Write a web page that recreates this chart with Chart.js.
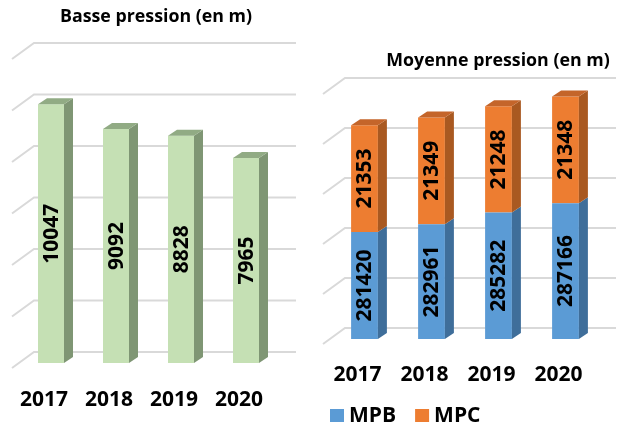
<!DOCTYPE html>
<html lang="fr">
<head>
<meta charset="utf-8">
<title>Longueur des réseaux basse et moyenne pression</title>
<script src="https://cdn.jsdelivr.net/npm/chart.js@4.4.1/dist/chart.umd.min.js"></script>
<style>
    html, body { margin: 0; padding: 0; background: #fff; }
    #wrap { position: relative; width: 621px; height: 427px; overflow: hidden; }
    .panel { position: absolute; top: 0; height: 427px; }
    #left { left: 0; width: 310px; }
    #right { left: 310px; width: 311px; }
</style>
</head>
<body>
<div id="wrap">
    <div class="panel" id="left"><canvas id="bpChart"></canvas></div>
    <div class="panel" id="right"><canvas id="mpChart"></canvas></div>
</div>
<script>
"use strict";

const years = ['2017', '2018', '2019', '2020'];

// Basse pression (en m)
const bpLengths = [10047, 9092, 8828, 7965];

// Moyenne pression (en m)
const mpbLengths = [281420, 282961, 285282, 287166];
const mpcLengths = [21353, 21349, 21248, 21348];
const mpSeries = ['MPB', 'MPC'];
const mpAxisMin = 260000;

const FONT = '"Open Sans", "Liberation Sans", sans-serif';
const DX = 9, DY = 6;   // depth of the 3D bars

function poly(ctx, pts, color) {
    ctx.beginPath();
    ctx.moveTo(pts[0][0], pts[0][1]);
    for (let i = 1; i < pts.length; i++) ctx.lineTo(pts[i][0], pts[i][1]);
    ctx.closePath();
    ctx.fillStyle = color;
    ctx.fill();
}

// back wall + floor lines, bar side/top faces, values inside bars, title, legend
const pseudo3d = {
    id: 'pseudo3d',
    beforeDatasetsDraw(chart, args, opts) {
        const ctx = chart.ctx;
        const y = chart.scales.y;
        const left = chart.chartArea.left + opts.floorShift;
        ctx.save();
        ctx.strokeStyle = '#D9D9D9';
        ctx.lineWidth = 2;
        y.ticks.forEach(t => {
            const py = y.getPixelForValue(t.value);
            ctx.beginPath();
            ctx.moveTo(left, py + 5);
            ctx.lineTo(left + 22, py - 11);
            ctx.lineTo(opts.wallEnd, py - 11);
            ctx.stroke();
        });
        ctx.restore();
    },
    afterDatasetsDraw(chart) {
        const ctx = chart.ctx;
        const sets = chart.data.datasets;
        ctx.save();
        sets.forEach((ds, i) => {
            chart.getDatasetMeta(i).data.forEach(bar => {
                const p = bar.getProps(['x', 'y', 'base', 'width'], true);
                const l = p.x - p.width / 2, r = p.x + p.width / 2;
                poly(ctx, [[r, p.y], [r + DX, p.y - DY], [r + DX, p.base - DY], [r, p.base]], ds.sideColor);
                if (i === sets.length - 1) {
                    poly(ctx, [[l, p.y], [l + DX, p.y - DY], [r + DX, p.y - DY], [r, p.y]], ds.topColor);
                }
            });
        });
        ctx.fillStyle = '#000';
        ctx.font = 'bold 21px ' + FONT;
        ctx.textAlign = 'center';
        ctx.textBaseline = 'middle';
        sets.forEach((ds, i) => {
            chart.getDatasetMeta(i).data.forEach((bar, j) => {
                const p = bar.getProps(['x', 'y', 'base'], true);
                ctx.save();
                ctx.translate(p.x + 1, (p.y + p.base) / 2);
                ctx.rotate(-Math.PI / 2);
                ctx.fillText(String(ds.data[j]), 0, 0);
                ctx.restore();
            });
        });
        ctx.restore();
    },
    afterDraw(chart, args, opts) {
        const ctx = chart.ctx;
        ctx.save();
        ctx.fillStyle = '#000';
        ctx.textBaseline = 'middle';
        ctx.textAlign = 'center';
        ctx.font = 'bold 17.8px ' + FONT;
        ctx.fillText(opts.title, opts.titleX, opts.titleY);
        if (opts.legend) {
            ctx.font = 'bold 21px ' + FONT;
            ctx.textAlign = 'left';
            let x = opts.legendX;
            chart.data.datasets.forEach(ds => {
                ctx.fillStyle = ds.backgroundColor;
                ctx.fillRect(x, opts.legendY - 7, 14, 13);
                ctx.fillStyle = '#000';
                ctx.fillText(ds.label, x + 19, opts.legendY);
                x += 19 + ctx.measureText(ds.label).width + 19;
            });
        }
        ctx.restore();
    }
};

function xAxis(height, pad) {
    return {
        grid: { display: false, drawTicks: false },
        border: { display: false },
        ticks: {
            color: '#000',
            padding: pad,
            labelOffset: -7,
            font: { family: FONT, size: 21, weight: 'bold' }
        },
        afterFit(scale) { scale.height = height; }
    };
}

function yAxis(min, max, step) {
    return {
        display: false,
        min: min,
        max: max,
        stacked: true,
        ticks: { stepSize: step }
    };
}

new Chart(document.getElementById('bpChart'), {
    type: 'bar',
    data: {
        labels: years,
        datasets: [{
            label: 'Basse pression',
            data: bpLengths,
            backgroundColor: '#C5E0B4',
            sideColor: '#7F9674',
            topColor: '#91AB84',
            barPercentage: 0.4,
            categoryPercentage: 1
        }]
    },
    options: {
        responsive: true,
        maintainAspectRatio: false,
        animation: false,
        events: [],
        layout: { padding: { top: 54, left: 18.5, right: 31.5, bottom: 0 } },
        scales: {
            x: xAxis(64, 24),
            y: yAxis(0, 12000, 2000)
        },
        plugins: {
            legend: { display: false },
            tooltip: { enabled: false },
            pseudo3d: {
                floorShift: -6.5, wallEnd: 296,
                title: 'Basse pression (en m)', titleX: 156, titleY: 17
            }
        }
    },
    plugins: [pseudo3d]
});

new Chart(document.getElementById('mpChart'), {
    type: 'bar',
    data: {
        labels: years,
        datasets: [{
            label: mpSeries[0],
            data: mpbLengths,
            base: mpAxisMin,
            backgroundColor: '#5B9BD5',
            sideColor: '#3F6E9A',
            topColor: '#4A80B2',
            barPercentage: 0.4,
            categoryPercentage: 1
        }, {
            label: mpSeries[1],
            data: mpcLengths,
            backgroundColor: '#ED7D31',
            sideColor: '#A95921',
            topColor: '#C4652A',
            barPercentage: 0.4,
            categoryPercentage: 1
        }]
    },
    options: {
        responsive: true,
        maintainAspectRatio: false,
        animation: false,
        events: [],
        layout: { padding: { top: 89, left: 21, right: 22, bottom: 0 } },
        scales: {
            x: Object.assign(xAxis(88, 23), { stacked: true }),
            y: yAxis(mpAxisMin, 310000, 10000)
        },
        plugins: {
            legend: { display: false },
            tooltip: { enabled: false },
            pseudo3d: {
                floorShift: -8, wallEnd: 306,
                title: 'Moyenne pression (en m)', titleX: 188, titleY: 61,
                legend: true, legendX: 20, legendY: 416
            }
        }
    },
    plugins: [pseudo3d]
});
</script>
</body>
</html>
